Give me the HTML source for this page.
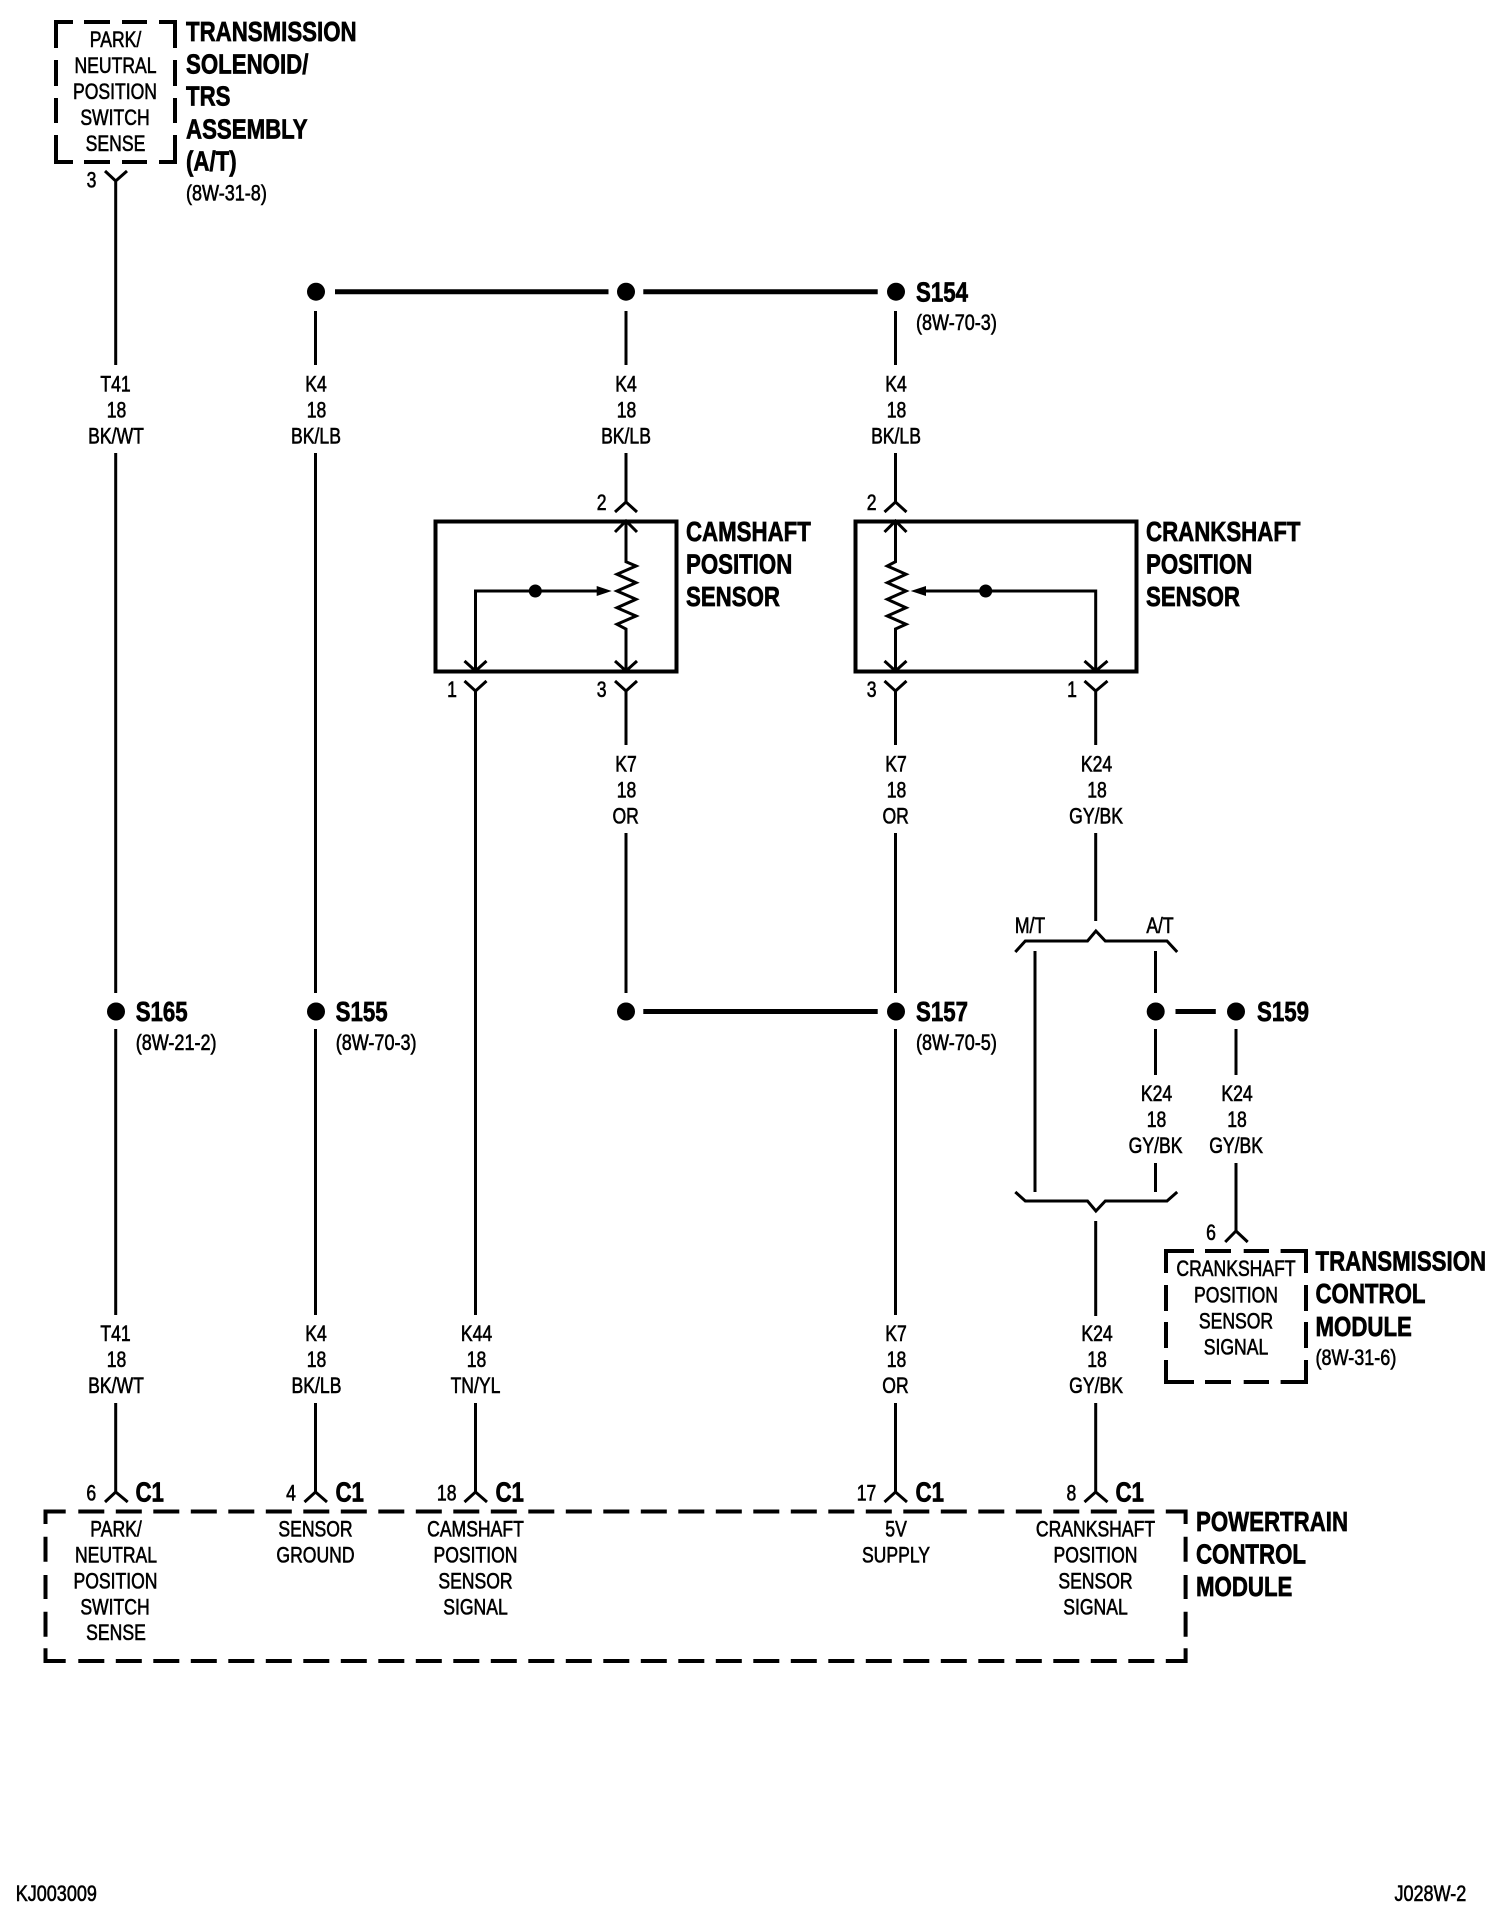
<!DOCTYPE html>
<html><head><meta charset="utf-8"><style>
html,body{margin:0;padding:0;background:#fff}
svg{display:block}
text{font-family:"Liberation Sans",sans-serif;font-size:22px;fill:#000;stroke:#000;stroke-width:.6;text-anchor:middle;transform-box:fill-box;transform-origin:50% 50%;transform:scaleX(.8)}
text.l{text-anchor:start;transform-origin:0% 50%}
text.f{transform:scaleX(.82)}
text.b{font-weight:bold;font-size:28px;stroke-width:.7;text-anchor:start;transform-origin:0% 50%;transform:scaleX(.795)}
.t{fill:none;stroke:#000;stroke-width:3}
.m{fill:none;stroke:#000;stroke-width:4}
.h{fill:none;stroke:#000;stroke-width:5}
</style></head><body>
<svg width="1504" height="1920" viewBox="0 0 1504 1920" xmlns="http://www.w3.org/2000/svg">
<rect width="1504" height="1920" fill="#fff"/>

<!-- top dashed box -->
<path class="m" d="M56 48V22H73M84 22H110M122 22H147M159 22H175V48M56 60V86M56 98V123M56 135V162H73M84 162H110M122 162H147M159 162H175V135M175 60V86M175 98V123"/>
<text x="115.5" y="47">PARK/</text><text x="115.5" y="73">NEUTRAL</text><text x="115" y="99">POSITION</text><text x="115" y="125">SWITCH</text><text x="115.5" y="151">SENSE</text>
<text class="b" x="186" y="41">TRANSMISSION</text><text class="b" x="186" y="73.5">SOLENOID/</text><text class="b" x="186" y="105.5">TRS</text><text class="b" x="186" y="138.5">ASSEMBLY</text><text class="b" x="186" y="170.5">(A/T)</text>
<text class="l f" x="186" y="200.5">(8W-31-8)</text>
<text x="91.5" y="187.5">3</text>

<!-- wires -->
<path class="t" d="M105 171L115.7 181L127 171M115.7 181V365M115.7 453V993M115.7 1029V1315M115.7 1403V1492M105 1502L115.7 1492L127.7 1502"/>
<path class="t" d="M315.5 311V365M315.5 453V993M315.5 1029V1315M315.5 1403V1492M304.5 1502L315.5 1492L327 1502"/>
<path class="t" d="M464.5 681L475.5 691L486.5 681M475.5 691V1315M475.5 1403V1492M464.5 1502L475.5 1492L487 1502"/>
<path class="t" d="M626 311V365M626 453V502M615 512L626 502L637 512"/>
<path class="t" d="M615 681L626 691L637 681M626 691V745M626 833V993"/>
<path class="t" d="M895.5 311V365M895.5 453V502M884.5 512L895.5 502L906.5 512"/>
<path class="t" d="M884.5 681L895.5 691L906.5 681M895.5 691V745M895.5 833V993M895.5 1029V1315M895.5 1403V1492M884.5 1502L895.5 1492L907 1502"/>
<path class="t" d="M1084.5 681L1095.7 691L1107.5 681M1095.7 691V745M1095.7 833V921"/>
<path class="t" d="M1095.7 1221V1316M1095.7 1403V1492M1084.5 1502L1095.7 1492L1107.5 1502"/>
<path class="t" d="M1015.3 952L1025.3 941H1087.5L1095.9 931L1105.3 941H1167L1177.2 952"/>
<path class="t" d="M1015.3 1192L1025.3 1201H1087.5L1095.9 1211L1105.3 1201H1167L1177.2 1192"/>
<path class="t" d="M1035 951V1192M1155.5 951V993M1155.5 1029V1075M1155.5 1163V1192"/>
<path class="t" d="M1236 1029V1075M1236 1163V1231M1225.2 1242L1236 1231L1247.7 1242"/>

<!-- thick jumpers and dots -->
<path class="h" d="M335 291.7H608.5M643.3 291.7H877.7M643.3 1011.5H877.7M1175.5 1011.5H1215.8"/>
<g fill="#000">
<circle cx="316" cy="291.7" r="9"/><circle cx="626" cy="291.7" r="9"/><circle cx="896" cy="291.7" r="9"/>
<circle cx="116" cy="1011.5" r="9"/><circle cx="316" cy="1011.5" r="9"/><circle cx="626" cy="1011.5" r="9"/><circle cx="896" cy="1011.5" r="9"/><circle cx="1155.7" cy="1011.5" r="9"/><circle cx="1236" cy="1011.5" r="9"/>
<circle cx="535.3" cy="591" r="6.5"/><circle cx="985.7" cy="591" r="6.5"/>
<path d="M611.7 591L596.7 586V596Z"/><path d="M910.7 591L926 586V596Z"/>
</g>

<!-- sensor boxes -->
<rect class="m" x="435.5" y="521.5" width="241" height="150"/>
<rect class="m" x="855.5" y="521.5" width="281" height="150"/>
<path class="t" d="M615 532L626 521L637 532M626 521V561.7L636 566L617 574.3L636 582.7L617 591L636 599.3L617 607.7L636 616L617 624.3L626 629V671M615 661L626 671L637 661"/>
<path class="t" d="M598 591H475.5V671M464.5 661L475.5 671L486.5 661"/>
<path class="t" d="M884.5 532L895.5 521L906.5 532M895.5 521V561.7L887.3 566L906 574.3L887.3 582.7L906 591L887.3 599.3L906 607.7L887.3 616L906 624.3L895.5 629V671M884.5 661L895.5 671L906.5 661"/>
<path class="t" d="M925 591H1095.7V671M1084.5 661L1095.7 671L1107.5 661"/>
<text x="601.7" y="510">2</text><text x="871.7" y="510">2</text>
<text x="452" y="697">1</text><text x="601.7" y="697">3</text><text x="871.7" y="697">3</text><text x="1072" y="697">1</text>
<text class="b" x="686" y="541">CAMSHAFT</text><text class="b" x="686" y="573.5">POSITION</text><text class="b" x="686" y="606">SENSOR</text>
<text class="b" x="1146" y="541">CRANKSHAFT</text><text class="b" x="1146" y="573.5">POSITION</text><text class="b" x="1146" y="606">SENSOR</text>

<!-- splice labels -->
<text class="b" x="916" y="301.5">S154</text><text class="l f" x="916" y="330">(8W-70-3)</text>
<text class="b" x="135.7" y="1021">S165</text><text class="l f" x="135.7" y="1050">(8W-21-2)</text>
<text class="b" x="335.7" y="1021">S155</text><text class="l f" x="335.7" y="1050">(8W-70-3)</text>
<text class="b" x="916" y="1021">S157</text><text class="l f" x="916" y="1050">(8W-70-5)</text>
<text class="b" x="1257" y="1021">S159</text>
<text x="1030" y="933">M/T</text><text x="1160" y="933">A/T</text>

<!-- wire labels row A -->
<text x="115.5" y="391.5">T41</text><text x="116.5" y="417.5">18</text><text x="116" y="443.5">BK/WT</text>
<text x="316" y="391.5">K4</text><text x="316.5" y="417.5">18</text><text x="316" y="443.5">BK/LB</text>
<text x="626" y="391.5">K4</text><text x="626.5" y="417.5">18</text><text x="626" y="443.5">BK/LB</text>
<text x="896" y="391.5">K4</text><text x="896.5" y="417.5">18</text><text x="896" y="443.5">BK/LB</text>
<!-- row B -->
<text x="626" y="771.5">K7</text><text x="626.5" y="797.5">18</text><text x="625.7" y="823.5">OR</text>
<text x="896" y="771.5">K7</text><text x="896.5" y="797.5">18</text><text x="895.7" y="823.5">OR</text>
<text x="1096.5" y="771.5">K24</text><text x="1097" y="797.5">18</text><text x="1096" y="823.5">GY/BK</text>
<!-- row C -->
<text x="1156.5" y="1101">K24</text><text x="1156.5" y="1127">18</text><text x="1155.5" y="1153">GY/BK</text>
<text x="1237" y="1101">K24</text><text x="1237" y="1127">18</text><text x="1236" y="1153">GY/BK</text>
<!-- row D -->
<text x="115.5" y="1341">T41</text><text x="116.5" y="1367">18</text><text x="116" y="1393">BK/WT</text>
<text x="316" y="1341">K4</text><text x="316.5" y="1367">18</text><text x="316.5" y="1393">BK/LB</text>
<text x="476.5" y="1341">K44</text><text x="476.5" y="1367">18</text><text x="475.5" y="1393">TN/YL</text>
<text x="896" y="1341">K7</text><text x="896.5" y="1367">18</text><text x="895.5" y="1393">OR</text>
<text x="1097" y="1341">K24</text><text x="1097" y="1367">18</text><text x="1096" y="1393">GY/BK</text>

<!-- TCM -->
<text x="1211" y="1240">6</text>
<path class="m" d="M1166 1273V1251H1194M1205 1251H1231M1243.7 1251H1269M1280.6 1251H1306V1273M1166 1285V1311M1166 1322V1348M1166 1360V1382H1194M1205 1382H1231M1243.7 1382H1269M1280.6 1382H1306V1360M1306 1285V1311M1306 1322V1348"/>
<text x="1236" y="1276">CRANKSHAFT</text><text x="1236" y="1302.5">POSITION</text><text x="1236" y="1328.5">SENSOR</text><text x="1236" y="1354.5">SIGNAL</text>
<text class="b" x="1315.5" y="1270.7">TRANSMISSION</text><text class="b" x="1315.5" y="1303">CONTROL</text><text class="b" x="1315.5" y="1336">MODULE</text>
<text class="l f" x="1315.5" y="1365">(8W-31-6)</text>

<!-- PCM -->
<path class="m" d="M45.5 1524V1511.5H65.7M1165.8 1511.5H1185.6V1524M45.5 1536.7V1561.7M45.5 1575V1599M45.5 1611.7V1636.7M45.5 1648.3V1661H65.7M1165.8 1661H1185.6V1648.3M1185.6 1536.7V1561.7M1185.6 1575V1599M1185.6 1611.7V1636.7"/>
<path class="m" stroke-dasharray="26 11.5" d="M78.3 1511.5H1154.5M78.3 1661H1154.5"/>
<text x="91.3" y="1500.5">6</text><text x="291" y="1500.5">4</text><text x="446.7" y="1500.5">18</text><text x="866.5" y="1500.5">17</text><text x="1071.4" y="1500.5">8</text>
<text class="b" x="135.5" y="1501.5">C1</text><text class="b" x="335.5" y="1501.5">C1</text><text class="b" x="495.5" y="1501.5">C1</text><text class="b" x="915.5" y="1501.5">C1</text><text class="b" x="1115.5" y="1501.5">C1</text>
<text x="116" y="1536.7">PARK/</text><text x="116" y="1562.5">NEUTRAL</text><text x="115.5" y="1588.5">POSITION</text><text x="115" y="1614.5">SWITCH</text><text x="116" y="1640">SENSE</text>
<text x="315.5" y="1536.7">SENSOR</text><text x="315.5" y="1562.5">GROUND</text>
<text x="475.5" y="1536.7">CAMSHAFT</text><text x="475.5" y="1562.5">POSITION</text><text x="475.5" y="1588.5">SENSOR</text><text x="475.5" y="1614.5">SIGNAL</text>
<text x="896" y="1536.7">5V</text><text x="896" y="1562.5">SUPPLY</text>
<text x="1095.5" y="1536.7">CRANKSHAFT</text><text x="1095.5" y="1562.5">POSITION</text><text x="1095.5" y="1588.5">SENSOR</text><text x="1095.5" y="1614.5">SIGNAL</text>
<text class="b" x="1196" y="1531.2">POWERTRAIN</text><text class="b" x="1196" y="1563.5">CONTROL</text><text class="b" x="1196" y="1596">MODULE</text>

<text class="l f" x="15.7" y="1901">KJ003009</text>
<text class="l f" x="1394.5" y="1901">J028W-2</text>
</svg>
</body></html>
